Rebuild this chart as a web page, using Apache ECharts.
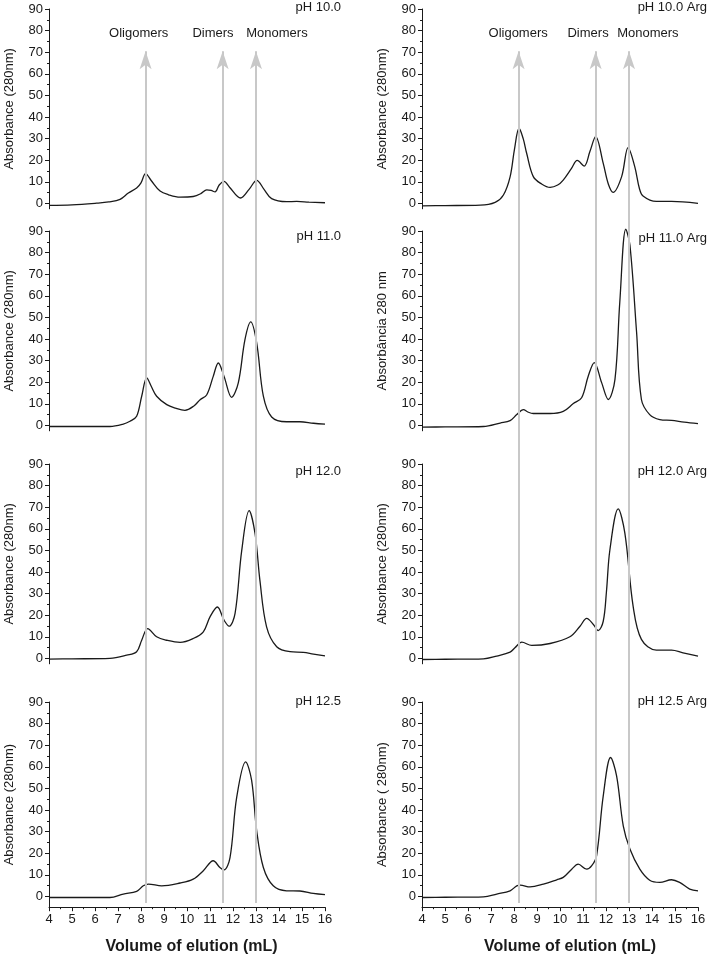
<!DOCTYPE html>
<html>
<head>
<meta charset="utf-8">
<title>SEC elution profiles</title>
<script src="https://cdn.jsdelivr.net/npm/echarts@6/dist/echarts.min.js"></script>
<style>
  html, body { margin: 0; padding: 0; background: #fff; }
  #chart { width: 709px; height: 959px; }
</style>
</head>
<body>
<div id="chart"></div>
<script>
// elution profiles, [volume mL, absorbance]
const ph100 = [[4, -0.9], [5, -0.7], [6.07, 0.1], [6.6, 0.7], [7.09, 1.9], [7.45, 4.8], [7.81, 7.1], [8.0, 9.5], [8.2, 13.8], [8.45, 10.5], [8.83, 5.7], [9.2, 4.0], [9.7, 2.9], [10.27, 3.2], [10.6, 4.5], [10.86, 6.3], [11.05, 6.0], [11.22, 5.3], [11.4, 8.5], [11.61, 10.2], [11.85, 7.5], [12.33, 2.5], [12.7, 6.5], [13.03, 10.7], [13.35, 6.5], [13.68, 2.2], [14.33, 0.8], [14.77, 0.9], [15.3, 0.6], [16, 0.3]]
const ph110 = [[4, -0.5], [5, -0.5], [6.65, -0.5], [7.2, 0.5], [7.52, 1.9], [7.81, 4.2], [8.03, 13.5], [8.25, 22], [8.45, 18], [8.68, 13.5], [9.12, 9.6], [9.5, 8], [9.91, 7], [10.3, 9], [10.57, 11.9], [10.86, 14.2], [11.14, 22.7], [11.36, 28.9], [11.61, 22.7], [11.94, 13], [12.23, 19.7], [12.52, 39.7], [12.77, 47.9], [13.03, 38.2], [13.32, 13.5], [13.68, 3.9], [14.33, 1.7], [14.91, 1.7], [15.5, 1], [16, 0.6]]
const ph120 = [[4, -0.3], [5, -0.2], [6.65, 0], [7.38, 1.5], [7.81, 3.1], [8.03, 8.4], [8.29, 13.8], [8.68, 10], [9.12, 8.4], [9.7, 7.4], [10.27, 9.2], [10.71, 12.3], [11.0, 19.2], [11.32, 23.8], [11.61, 17.7], [11.83, 14.9], [12.09, 20.8], [12.38, 50], [12.7, 68.4], [12.96, 57.7], [13.17, 36.1], [13.46, 14.6], [13.9, 5.4], [14.48, 3.1], [15.06, 2.8], [15.5, 2], [16, 1.2]]
const ph125 = [[4, -0.5], [5, -0.5], [6.65, -0.5], [7.23, 1.1], [7.81, 2.3], [8.1, 4.9], [8.32, 5.7], [8.9, 4.9], [9.7, 6.2], [10.27, 8], [10.71, 11.9], [11.14, 16.5], [11.43, 13.4], [11.61, 12.3], [11.87, 18], [12.16, 45.8], [12.55, 62.3], [12.81, 53.7], [13.03, 30.4], [13.32, 13.4], [13.75, 4.9], [14.33, 2.6], [14.91, 2.5], [15.49, 1.4], [16, 0.8]]
const ph100Arg = [[4, -1.1], [5, -1], [6.53, -0.8], [7.18, 0.5], [7.54, 3.9], [7.83, 12.3], [8.02, 25], [8.22, 34.8], [8.4, 30], [8.55, 23.2], [8.84, 12.4], [9.2, 9], [9.57, 7.4], [9.9, 8.5], [10.14, 10.8], [10.5, 16.2], [10.75, 19.9], [11.05, 17.3], [11.3, 24], [11.55, 30.9], [11.88, 18.5], [12.1, 9], [12.31, 5.1], [12.68, 12.4], [12.96, 25.8], [13.25, 17], [13.45, 7], [13.61, 3.4], [14.19, 0.9], [14.85, 0.9], [16, 0]]
const ph110Arg = [[4, -0.8], [5, -0.7], [6.67, -0.5], [7.4, 1.1], [7.83, 2.2], [8.12, 5], [8.41, 7.3], [8.6, 6.2], [8.84, 5.5], [9.57, 5.5], [10.14, 6.5], [10.58, 10.1], [10.94, 12.8], [11.23, 22.9], [11.49, 29.1], [11.81, 19.8], [12.1, 12], [12.39, 21.3], [12.6, 57.1], [12.86, 90.8], [13.04, 83.5], [13.33, 43.1], [13.54, 12], [13.9, 5], [14.34, 2.7], [14.85, 2.3], [15.4, 1.5], [16, 0.8]]
const ph120Arg = [[4, -0.5], [5, -0.4], [6.67, -0.2], [7.25, 1.1], [7.83, 2.9], [8.04, 4.9], [8.34, 7.5], [8.77, 6], [9.57, 6.9], [10.43, 10], [10.87, 14.9], [11.16, 18.5], [11.45, 15.7], [11.66, 12.9], [11.88, 17.2], [12.02, 31], [12.17, 50.3], [12.53, 69.2], [12.82, 58], [13.18, 24.1], [13.54, 8.8], [14.19, 3.8], [14.85, 3.8], [15.35, 2.6], [16, 1.1]]
const ph125Arg = [[4, -0.5], [5, -0.4], [6.67, -0.2], [7.25, 1.1], [7.83, 2.6], [8.12, 4.9], [8.27, 5.2], [8.7, 4.4], [9.28, 5.7], [9.86, 7.7], [10.14, 8.8], [10.51, 12.6], [10.79, 14.9], [11.16, 12.6], [11.38, 14.2], [11.59, 18.8], [11.88, 46.5], [12.2, 64.3], [12.46, 55.8], [12.75, 32.7], [13.04, 21.9], [13.47, 12.6], [13.9, 7.5], [14.34, 6.5], [14.85, 7.7], [15.2, 6.5], [15.64, 3.4], [16, 2.6]]

const curves = [ph100, ph110, ph120, ph125, ph100Arg, ph110Arg, ph120Arg, ph125Arg]
const panelTitles = ['pH 10.0', 'pH 11.0', 'pH 12.0', 'pH 12.5', 'pH 10.0 Arg', 'pH 11.0 Arg', 'pH 12.0 Arg', 'pH 12.5 Arg']
const yNames = ['Absorbance (280nm)', 'Absorbance (280nm)', 'Absorbance (280nm)', 'Absorbance (280nm)',
  'Absorbance (280nm)', 'Absorbância 280 nm', 'Absorbance (280nm)', 'Absorbance ( 280nm)']
const yTicks = [0, 10, 20, 30, 40, 50, 60, 70, 80, 90]
const yMinorTicks = [5, 15, 25, 35, 45, 55, 65, 75, 85]

// elution markers (vertical arrows)
const markerNames = ['Oligomers', 'Dimers', 'Monomers']
const markerX = [8.2, 11.55, 13.0]

// layout
const rowTop = [9, 231, 464, 702]
const colLeft = [49, 422]
const plotW = 276
const pxPerUnit = 2.16
const titleTop = [[1, 229.5, 464.5, 694.5], [1, 231.5, 464.5, 694.5]]
const titleRight = [368, 2]
const markerLabelX = [[7.9, 11.13, 13.91], [8.18, 11.22, 13.82]]
const font = 'Liberation Sans, Arial, Helvetica, sans-serif'
const ink = '#1a1a1a'

let grid = [], xAxis = [], yAxis = [], series = [], title = []

curves.forEach(function (data, i) {
  let col = Math.floor(i / 4), row = i % 4
  let bottomRow = row === 3
  let yMin = bottomRow ? -5 : -2.5
  grid.push({left: colLeft[col], top: rowTop[row], width: plotW, height: (90 - yMin) * pxPerUnit})
  xAxis.push({
    gridIndex: i, type: 'value', min: 4, max: 16, interval: 1, show: bottomRow,
    name: 'Volume of elution (mL)', nameLocation: 'middle', nameGap: 31,
    nameTextStyle: {fontFamily: font, fontSize: 16, fontWeight: 'bold', color: ink, padding: [0, 0, 0, col ? 20 : 9]},
    axisLine: {show: true, onZero: false, lineStyle: {color: ink, width: 1}},
    axisTick: {show: true, length: 4, lineStyle: {color: ink}},
    minorTick: {show: true, splitNumber: 2, length: 2, lineStyle: {color: ink}},
    axisLabel: {fontFamily: font, fontSize: 13, color: ink, margin: 6},
    splitLine: {show: false}
  })
  yAxis.push({
    gridIndex: i, type: 'value', position: 'left', min: yMin, max: 90,
    name: yNames[i], nameLocation: 'middle', nameGap: 33,
    nameTextStyle: {fontFamily: font, fontSize: 13, color: ink},
    axisLine: {show: true, onZero: false, lineStyle: {color: ink, width: 1}},
    axisTick: {show: true, length: 4, customValues: yTicks, lineStyle: {color: ink}},
    axisLabel: {fontFamily: font, fontSize: 13, color: ink, margin: 6, customValues: yTicks},
    splitLine: {show: false}
  })
  // minor ticks every 5
  yAxis.push({
    gridIndex: i, type: 'value', position: 'left', min: yMin, max: 90,
    axisLine: {show: false, onZero: false},
    axisTick: {show: true, length: 2, customValues: yMinorTicks, lineStyle: {color: ink}},
    axisLabel: {show: false},
    splitLine: {show: false}
  })
  series.push({
    type: 'line', xAxisIndex: i, yAxisIndex: 2 * i, data: data,
    showSymbol: false, smooth: 0.35, clip: false, z: 3,
    lineStyle: {color: ink, width: 1.3}
  })
  title.push({
    text: panelTitles[i], right: titleRight[col], top: titleTop[col][row], padding: 0,
    textStyle: {fontFamily: font, fontSize: 13, fontWeight: 'normal', color: ink}
  })
})

// overlay grids carrying the marker arrows across all rows
colLeft.forEach(function (left, col) {
  let gi = 8 + col
  grid.push({left: left, top: 33, width: plotW, height: 870})
  xAxis.push({gridIndex: gi, type: 'value', min: 4, max: 16, show: false})
  yAxis.push({gridIndex: gi, type: 'value', min: 0, max: 1, show: false})
  series.push({
    type: 'line', xAxisIndex: gi, yAxisIndex: 16 + col, data: [], z: 1, silent: true,
    markLine: {
      silent: true, symbol: ['none', 'arrow'], symbolSize: 13,
      label: {show: false},
      lineStyle: {color: '#c8c8c8', width: 2, type: 'solid', opacity: 1},
      emphasis: {disabled: true},
      data: markerX.map(function (x) {
        return [{coord: [x, 0]}, {coord: [x, 0.979], symbolSize: [9, 18]}]
      })
    }
  })
  series.push({
    type: 'scatter', xAxisIndex: gi, yAxisIndex: 16 + col, symbolSize: 0, silent: true, clip: false,
    itemStyle: {opacity: 1},
    data: markerLabelX[col].map(function (x) { return [x, 1] }),
    label: {
      show: true, position: 'inside', fontFamily: font, fontSize: 13, color: ink, opacity: 1,
      formatter: function (p) { return markerNames[p.dataIndex] }
    }
  })
})

let chart = echarts.init(document.getElementById('chart'))
chart.setOption({
  animation: false,
  backgroundColor: '#fff',
  title: title,
  grid: grid,
  xAxis: xAxis,
  yAxis: yAxis,
  series: series
})
</script>
</body>
</html>
